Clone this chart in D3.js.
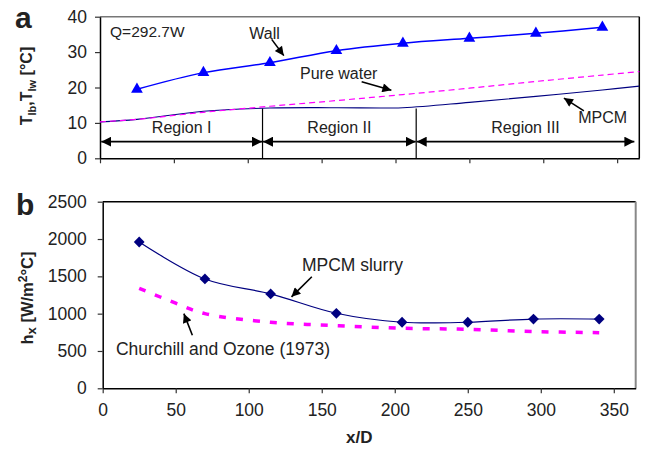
<!DOCTYPE html>
<html>
<head>
<meta charset="utf-8">
<script src="https://cdn.jsdelivr.net/npm/d3@7"></script>
<style>
  body { margin: 0; background: #fff; }
  svg { display: block; font-family: "Liberation Sans", Arial, sans-serif; }
</style>
</head>
<body>
<div class="chart"></div>
<script>
var width = 648;
var height = 450;

// measuring stations (x/D)
var stations = [25, 70, 115, 160, 205, 250, 295, 340];
var wallTemp = [19.5, 24.2, 27.0, 30.4, 32.5, 33.9, 35.3, 37.0];

// bulk temperatures along the tube
var bulkX = [0, 25, 70, 115, 160, 205, 250, 295, 340, 365];
var waterTemp = [10.3, 11.0, 13.0, 14.7, 16.3, 18.0, 19.8, 21.7, 23.5, 24.5];
var mpcmTemp = [10.3, 11.0, 13.3, 14.2, 14.3, 14.3, 15.8, 17.5, 19.3, 20.4];

// heat transfer coefficient
var slurryH = [1960, 1465, 1265, 1005, 885, 885, 928, 928];
var churchillX = [25, 50, 70, 115, 160, 205, 250, 295, 340];
var churchillH = [1340, 1140, 1000, 885, 840, 805, 790, 760, 745];

var xTicks = [0, 50, 100, 150, 200, 250, 300, 350];
var tempTicks = [0, 10, 20, 30, 40];
var hTicks = [0, 500, 1000, 1500, 2000, 2500];

var regionBounds = [0.5, 110, 214, 362];
var regionNames = ["Region I", "Region II", "Region III"];

var svg = d3.select(".chart")
  .append("svg")
  .attr("width", width)
  .attr("height", height);

var defs = svg.append("defs");
defs.append("marker")
  .attr("id", "head")
  .attr("viewBox", "0 0 10 10")
  .attr("refX", 10).attr("refY", 5)
  .attr("markerUnits", "userSpaceOnUse")
  .attr("markerWidth", 11).attr("markerHeight", 9)
  .attr("orient", "auto-start-reverse")
  .append("path").attr("d", "M0,0L10,5L0,10Z").attr("fill", "#000");
defs.append("marker")
  .attr("id", "head2")
  .attr("viewBox", "0 0 10 10")
  .attr("refX", 10).attr("refY", 5)
  .attr("markerUnits", "userSpaceOnUse")
  .attr("markerWidth", 10).attr("markerHeight", 10)
  .attr("orient", "auto-start-reverse")
  .append("path").attr("d", "M0,0L10,5L0,10Z").attr("fill", "#000");

var smooth = d3.curveCatmullRom.alpha(0.5);

function styleAxis(g) {
  g.select(".domain").attr("stroke", "#000").attr("stroke-width", 1.5);
  g.selectAll(".tick line").attr("stroke", "#333").attr("stroke-width", 1.2);
  g.selectAll(".tick text").attr("fill", "#222").style("font-size", "17.5px");
}

function arrow(g, x, y, p) {
  g.append("line")
    .attr("x1", x(p[0])).attr("y1", y(p[1]))
    .attr("x2", x(p[2])).attr("y2", y(p[3]))
    .attr("stroke", "#000").attr("stroke-width", 1.6)
    .attr("marker-end", "url(#head)");
}

function label(g, x, y, p, txt, size) {
  g.append("text")
    .attr("x", x(p[0])).attr("y", y(p[1]))
    .attr("dy", "0.35em")
    .attr("fill", "#222")
    .style("font-size", size + "px")
    .text(txt);
}

// ---------------- panel a ----------------
var xa = d3.scaleLinear().domain([0, 365]).range([100, 639.3]);
var ya = d3.scaleLinear().domain([0, 40]).range([158.3, 16.7]);
var ga = svg.append("g");

ga.append("line").attr("x1", xa(0)).attr("x2", xa(365)).attr("y1", ya(40)).attr("y2", ya(40))
  .attr("stroke", "#777").attr("stroke-width", 1.5);
ga.append("line").attr("x1", xa(365)).attr("x2", xa(365)).attr("y1", ya(40)).attr("y2", ya(0))
  .attr("stroke", "#000").attr("stroke-width", 1.5);

ga.append("g").attr("transform", "translate(0," + ya(0) + ")")
  .call(d3.axisBottom(xa).tickValues(xTicks).tickSize(5).tickSizeOuter(0).tickFormat(""))
  .call(styleAxis);
ga.append("g").attr("transform", "translate(" + xa(0) + ",0)")
  .call(d3.axisLeft(ya).tickValues(tempTicks).tickSize(5).tickSizeOuter(0).tickPadding(8))
  .call(styleAxis);

// region separators and double arrows
ga.selectAll(".sep")
  .data(regionBounds.slice(1, 3))
  .enter().append("line")
  .attr("x1", function (d) { return xa(d); }).attr("x2", function (d) { return xa(d); })
  .attr("y1", ya(14.1)).attr("y2", ya(0))
  .attr("stroke", "#000").attr("stroke-width", 1.2);
ga.selectAll(".span")
  .data(regionNames)
  .enter().append("line")
  .attr("x1", function (d, i) { return xa(regionBounds[i]) + 0.5; })
  .attr("x2", function (d, i) { return xa(regionBounds[i + 1]) - 0.5; })
  .attr("y1", ya(4.7)).attr("y2", ya(4.7))
  .attr("stroke", "#000").attr("stroke-width", 1.6)
  .attr("marker-start", "url(#head2)")
  .attr("marker-end", "url(#head2)");
ga.selectAll(".rname")
  .data(regionNames)
  .enter().append("text")
  .attr("x", function (d, i) { return xa((regionBounds[i] + regionBounds[i + 1]) / 2); })
  .attr("y", ya(8.75))
  .attr("dy", "0.35em")
  .attr("text-anchor", "middle")
  .attr("fill", "#222")
  .style("font-size", "16px")
  .text(function (d) { return d; });

var lineA = d3.line().curve(smooth);
ga.append("path")
  .attr("d", lineA(bulkX.map(function (d, i) { return [xa(d), ya(mpcmTemp[i])]; })))
  .attr("fill", "none").attr("stroke", "#000080").attr("stroke-width", 1.1);
ga.append("path")
  .attr("d", lineA(bulkX.map(function (d, i) { return [xa(d), ya(waterTemp[i])]; })))
  .attr("fill", "none").attr("stroke", "#ff00ff").attr("stroke-width", 1.2)
  .attr("stroke-dasharray", "6,4");
ga.append("path")
  .attr("d", lineA(stations.map(function (d, i) { return [xa(d), ya(wallTemp[i])]; })))
  .attr("fill", "none").attr("stroke", "#0000ff").attr("stroke-width", 1.5);
ga.selectAll(".tri")
  .data(stations)
  .enter().append("path")
  .attr("d", d3.symbol().type(d3.symbolTriangle).size(60))
  .attr("transform", function (d, i) { return "translate(" + xa(d) + "," + ya(wallTemp[i]) + ")"; })
  .attr("fill", "#0000ff");

label(ga, xa, ya, [6.8, 35.7], "Q=292.7W", 15.5);
label(ga, xa, ya, [101, 35.3], "Wall", 16);
arrow(ga, xa, ya, [116.2, 33.6, 124.4, 29.0]);
label(ga, xa, ya, [135.4, 24.0], "Pure water", 16);
arrow(ga, xa, ya, [177.1, 21.6, 197.2, 19.2]);
label(ga, xa, ya, [323.7, 11.6], "MPCM", 16);
arrow(ga, xa, ya, [327.5, 13.4, 314.0, 17.0]);

ga.append("text")
  .attr("x", 15).attr("y", 28)
  .style("font-size", "30px").style("font-weight", "bold")
  .attr("fill", "#222")
  .text("a");

var ylabA = ga.append("text")
  .attr("transform", "translate(32,86) rotate(-90)")
  .attr("text-anchor", "middle")
  .attr("fill", "#222")
  .style("font-size", "16px").style("font-weight", "bold");
ylabA.append("tspan").text("T");
ylabA.append("tspan").attr("dy", 4).style("font-size", "11px").text("lb");
ylabA.append("tspan").attr("dy", -4).text(",T");
ylabA.append("tspan").attr("dy", 4).style("font-size", "11px").text("lw");
ylabA.append("tspan").attr("dy", -4).text(" [°C]");

// ---------------- panel b ----------------
var xb = d3.scaleLinear().domain([0, 365]).range([102.7, 635.7]);
var yb = d3.scaleLinear().domain([0, 2500]).range([388.3, 201.7]);
var gb = svg.append("g");

gb.append("line").attr("x1", xb(0)).attr("x2", xb(365)).attr("y1", yb(2500)).attr("y2", yb(2500))
  .attr("stroke", "#000").attr("stroke-width", 1.5);
gb.append("line").attr("x1", xb(365)).attr("x2", xb(365)).attr("y1", yb(2500)).attr("y2", yb(0))
  .attr("stroke", "#888").attr("stroke-width", 2);

gb.append("g").attr("transform", "translate(0," + yb(0) + ")")
  .call(d3.axisBottom(xb).tickValues(xTicks).tickSize(5).tickSizeOuter(0).tickPadding(10))
  .call(styleAxis);
gb.append("g").attr("transform", "translate(" + xb(0) + ",0)")
  .call(d3.axisLeft(yb).tickValues(hTicks).tickFormat(d3.format("d")).tickSize(5).tickSizeOuter(0).tickPadding(11))
  .call(styleAxis);

var lineB = d3.line().curve(smooth);
gb.append("path")
  .attr("d", lineB(churchillX.map(function (d, i) { return [xb(d), yb(churchillH[i])]; })))
  .attr("fill", "none").attr("stroke", "#ff00ff").attr("stroke-width", 3.5)
  .attr("stroke-dasharray", "7,10");
gb.append("path")
  .attr("d", lineB(stations.map(function (d, i) { return [xb(d), yb(slurryH[i])]; })))
  .attr("fill", "none").attr("stroke", "#000080").attr("stroke-width", 1.2);
gb.selectAll(".dia")
  .data(stations)
  .enter().append("path")
  .attr("d", d3.symbol().type(d3.symbolSquare).size(58))
  .attr("transform", function (d, i) { return "translate(" + xb(d) + "," + yb(slurryH[i]) + ") rotate(45)"; })
  .attr("fill", "#000080");

label(gb, xb, yb, [136.4, 1655], "MPCM slurry", 17.5);
arrow(gb, xb, yb, [143.2, 1495, 129.3, 1225]);
label(gb, xb, yb, [9.1, 527], "Churchill and Ozone (1973)", 17.5);
arrow(gb, xb, yb, [61.4, 710, 55.6, 1000]);

gb.append("text")
  .attr("x", 16).attr("y", 215)
  .style("font-size", "30px").style("font-weight", "bold")
  .attr("fill", "#222")
  .text("b");

var ylabB = gb.append("text")
  .attr("transform", "translate(33,298) rotate(-90)")
  .attr("text-anchor", "middle")
  .attr("fill", "#222")
  .style("font-size", "16.5px").style("font-weight", "bold");
ylabB.append("tspan").text("h");
ylabB.append("tspan").attr("dy", 3).style("font-size", "13px").text("x");
ylabB.append("tspan").attr("dy", -3).text(" [W/m");
ylabB.append("tspan").attr("dy", -6).style("font-size", "12px").text("2");
ylabB.append("tspan").attr("dy", 6).text("°C]");

gb.append("text")
  .attr("x", xb(0) + (xb(365) - xb(0)) / 2 - 10).attr("y", 443)
  .attr("text-anchor", "middle")
  .attr("fill", "#222")
  .style("font-size", "17px").style("font-weight", "bold")
  .text("x/D");
</script>
</body>
</html>
